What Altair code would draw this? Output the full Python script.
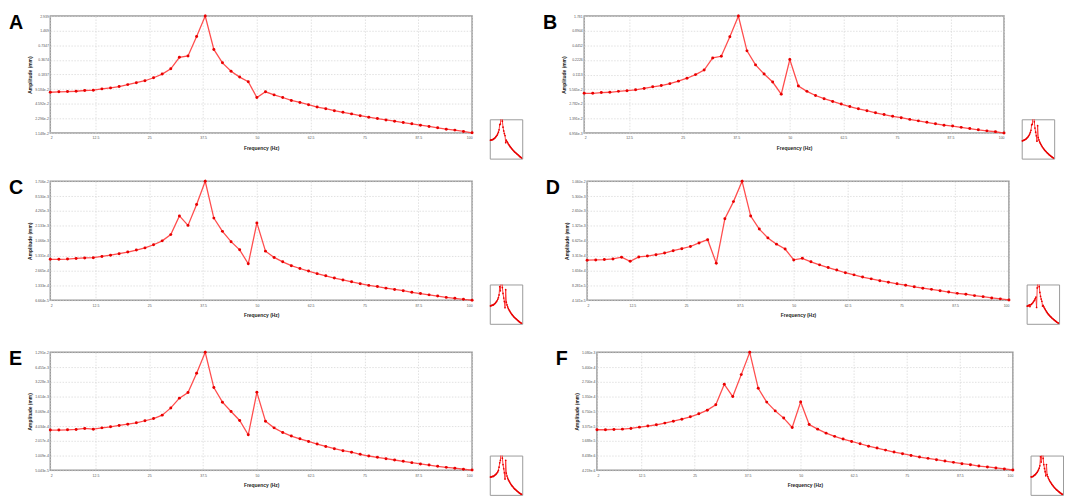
import altair as alt
import pandas as pd

# Frequency (Hz) of every computed point
FREQ = [2, 4, 6, 8, 10, 12, 14, 16, 18, 20, 22, 24, 26, 28, 30, 32, 34, 36, 38, 40,
        42, 44, 46, 48, 50, 52, 54, 56, 58, 60, 62, 64, 66, 68, 70, 72, 74, 76, 78, 80,
        82, 84, 86, 88, 90, 92, 94, 96, 98, 100]

X_TICKS = [2, 12.5, 25, 37.5, 50, 62.5, 75, 87.5, 100]

# Amplitude (mm)
AMP_A = [0.0794, 0.0811, 0.0822, 0.0833, 0.0863, 0.0875, 0.0931, 0.0977, 0.104, 0.114,
         0.125, 0.137, 0.158, 0.188, 0.241, 0.416, 0.443, 1.114, 2.939, 0.605,
         0.320, 0.215, 0.163, 0.131, 0.0619, 0.0811, 0.0701, 0.0619, 0.0539, 0.0489,
         0.0441, 0.0394, 0.0365, 0.0332, 0.0307, 0.0285, 0.0262, 0.0243, 0.0228, 0.0214,
         0.0201, 0.0189, 0.0178, 0.0167, 0.0157, 0.0147, 0.0138, 0.0132, 0.0124, 0.0116]
AMP_B = [0.0458, 0.0458, 0.0474, 0.0481, 0.0502, 0.0519, 0.0541, 0.0576, 0.0622, 0.0662,
         0.0724, 0.0815, 0.0936, 0.111, 0.138, 0.245, 0.265, 0.666, 1.781, 0.342,
         0.176, 0.114, 0.0781, 0.0440, 0.227, 0.0648, 0.0502, 0.0413, 0.0355, 0.0311,
         0.0275, 0.0244, 0.0220, 0.0201, 0.0182, 0.0167, 0.0154, 0.0144, 0.0133, 0.0124,
         0.0116, 0.0108, 0.0101, 0.00970, 0.00911, 0.00863, 0.00810, 0.00772, 0.00740, 0.00696]
AMP_C = [4.48e-4, 4.48e-4, 4.54e-4, 4.67e-4, 4.77e-4, 4.84e-4, 5.12e-4, 5.44e-4, 5.83e-4, 6.30e-4,
         6.89e-4, 7.64e-4, 8.84e-4, 1.059e-3, 1.417e-3, 3.39e-3, 2.18e-3, 5.79e-3, 1.706e-2, 3.06e-3,
         1.65e-3, 1.02e-3, 6.98e-4, 3.64e-4, 2.45e-3, 6.56e-4, 4.90e-4, 3.99e-4, 3.33e-4, 2.92e-4,
         2.59e-4, 2.30e-4, 2.08e-4, 1.87e-4, 1.71e-4, 1.57e-4, 1.44e-4, 1.33e-4, 1.26e-4, 1.17e-4,
         1.10e-4, 1.04e-4, 9.62e-5, 9.10e-5, 8.55e-5, 8.09e-5, 7.60e-5, 7.29e-5, 6.94e-5, 6.67e-5]
AMP_D = [2.67e-4, 2.71e-4, 2.75e-4, 2.84e-4, 3.07e-4, 2.55e-4, 3.11e-4, 3.24e-4, 3.45e-4, 3.73e-4,
         4.16e-4, 4.56e-4, 5.06e-4, 5.97e-4, 6.96e-4, 2.33e-4, 1.85e-3, 4.10e-3, 1.060e-2, 2.09e-3,
         1.14e-3, 7.56e-4, 5.65e-4, 4.50e-4, 2.71e-4, 2.92e-4, 2.48e-4, 2.15e-4, 1.90e-4, 1.69e-4,
         1.49e-4, 1.35e-4, 1.22e-4, 1.12e-4, 1.03e-4, 9.58e-5, 8.88e-5, 8.34e-5, 7.73e-5, 7.26e-5,
         6.87e-5, 6.45e-5, 6.06e-5, 5.70e-5, 5.47e-5, 5.13e-5, 4.89e-5, 4.60e-5, 4.41e-5, 4.20e-5]
AMP_E = [3.35e-4, 3.35e-4, 3.39e-4, 3.44e-4, 3.61e-4, 3.49e-4, 3.71e-4, 3.90e-4, 4.15e-4, 4.41e-4,
         4.70e-4, 5.18e-4, 5.74e-4, 6.74e-4, 9.47e-4, 1.50e-3, 1.95e-3, 4.83e-3, 1.291e-2, 2.46e-3,
         1.24e-3, 8.01e-4, 5.25e-4, 2.68e-4, 1.97e-3, 5.07e-4, 3.71e-4, 2.99e-4, 2.52e-4, 2.22e-4,
         1.96e-4, 1.73e-4, 1.55e-4, 1.39e-4, 1.27e-4, 1.18e-4, 1.07e-4, 9.88e-5, 9.28e-5, 8.72e-5,
         8.19e-5, 7.70e-5, 7.23e-5, 6.79e-5, 6.47e-5, 6.08e-5, 5.79e-5, 5.56e-5, 5.30e-5, 5.11e-5]
AMP_F = [2.84e-5, 2.84e-5, 2.88e-5, 2.92e-5, 3.02e-5, 3.21e-5, 3.38e-5, 3.59e-5, 3.88e-5, 4.24e-5,
         4.67e-5, 5.22e-5, 6.00e-5, 7.13e-5, 9.16e-5, 2.40e-4, 1.35e-4, 3.79e-4, 1.080e-3, 1.99e-4,
         1.04e-4, 6.89e-5, 4.91e-5, 3.17e-5, 1.05e-4, 3.64e-5, 2.92e-5, 2.42e-5, 2.08e-5, 1.83e-5,
         1.64e-5, 1.47e-5, 1.31e-5, 1.20e-5, 1.09e-5, 9.96e-6, 9.23e-6, 8.50e-6, 7.87e-6, 7.40e-6,
         6.95e-6, 6.53e-6, 6.13e-6, 5.76e-6, 5.49e-6, 5.16e-6, 4.95e-6, 4.71e-6, 4.49e-6, 4.28e-6]

# y-axis tick values (log axis) of each panel
TICKS_A = [1.148e-2, 2.296e-2, 4.592e-2, 9.184e-2, 0.1837, 0.3674, 0.7347, 1.469, 2.939]
TICKS_B = [6.956e-3, 1.391e-2, 2.782e-2, 5.565e-2, 0.1113, 0.2226, 0.4452, 0.8904, 1.781]
TICKS_C = [6.664e-5, 1.333e-4, 2.665e-4, 5.331e-4, 1.066e-3, 2.133e-3, 4.265e-3, 8.530e-3, 1.706e-2]
TICKS_D = [4.141e-5, 8.281e-5, 1.656e-4, 3.313e-4, 6.625e-4, 1.325e-3, 2.650e-3, 5.300e-3, 1.060e-2]
TICKS_E = [5.043e-5, 1.009e-4, 2.017e-4, 4.034e-4, 8.069e-4, 1.614e-3, 3.228e-3, 6.455e-3, 1.291e-2]
TICKS_F = [4.219e-6, 8.438e-6, 1.688e-5, 3.375e-5, 6.750e-5, 1.350e-4, 2.700e-4, 5.400e-4, 1.080e-3]

LINE_RED = "#ff3a3a"
PT_RED = "#e80000"
FONT = "Liberation Sans"
Y_LABELS = "datum.value >= 0.1 ? format(datum.value, '.4') : format(datum.value, '.3e')"
X_LABELS = "'' + datum.value"


def panel(letter, amps, ticks, width, height):
    df = pd.DataFrame({"f": FREQ, "amp": amps})
    x = alt.X("f:Q", scale=alt.Scale(domain=[2, 100], nice=False, zero=False),
              axis=alt.Axis(values=X_TICKS, labelExpr=X_LABELS, title="Frequency (Hz)",
                            labelPadding=3, titlePadding=6))
    y = alt.Y("amp:Q", scale=alt.Scale(type="log", domain=[ticks[0], ticks[-1]], nice=False),
              axis=alt.Axis(values=ticks, labelExpr=Y_LABELS, title="Amplitude (mm)",
                            labelPadding=2, titlePadding=2))
    base = alt.Chart(df).encode(x=x, y=y)
    line = base.mark_line(color=LINE_RED, strokeWidth=1.3, opacity=0.9, clip=False)
    pts = base.mark_circle(color=PT_RED, size=9, opacity=1)
    lab = alt.Chart(pd.DataFrame({"t": [letter]})).mark_text(
        font=FONT, fontSize=20, fontWeight="bold", color="black",
        align="left", baseline="top").encode(
        text="t:N", x=alt.value(-42), y=alt.value(-3))
    main = alt.layer(line, pts, lab).properties(width=width, height=height)

    # invisible spacer that pushes the thumbnail down beside the plot's lower edge
    spacer = alt.Chart(pd.DataFrame({"v": [0]})).mark_point(opacity=0).encode(
        x=alt.value(0), y=alt.value(0)
    ).properties(width=33, height=104,
                 view=alt.ViewBackground(stroke="transparent", strokeWidth=0))
    ib = alt.Chart(df).encode(
        x=alt.X("f:Q", scale=alt.Scale(domain=[2, 100], nice=False, zero=False), axis=None),
        y=alt.Y("amp:Q", scale=alt.Scale(type="log", domain=[ticks[0], ticks[6]], nice=False),
                axis=None))
    inset = alt.layer(
        ib.mark_line(color=LINE_RED, strokeWidth=1, clip=True),
        ib.mark_circle(color=PT_RED, size=3, opacity=1, clip=True),
    ).properties(width=33, height=40,
                 view=alt.ViewBackground(stroke="#9a9a9a", strokeWidth=1))
    return alt.hconcat(main, alt.vconcat(spacer, inset, spacing=0), spacing=11)


row1 = alt.hconcat(panel("A", AMP_A, TICKS_A, 429, 119),
                   panel("B", AMP_B, TICKS_B, 427, 119), spacing=19)
row2 = alt.hconcat(panel("C", AMP_C, TICKS_C, 429, 121),
                   panel("D", AMP_D, TICKS_D, 429, 121), spacing=22)
row3 = alt.hconcat(panel("E", AMP_E, TICKS_E, 429, 120),
                   panel("F", AMP_F, TICKS_F, 423, 120), spacing=32)

chart = alt.vconcat(row1, alt.vconcat(row2, row3, spacing=24), spacing=18).properties(
    padding={"left": 0, "top": 0, "right": 0, "bottom": 0}
).configure(font=FONT).configure_view(
    stroke="#9a9a9a", strokeWidth=1.5
).configure_axis(
    labelFontSize=3.5, labelColor="#555555", labelFont=FONT,
    titleFontSize=5, titleFontWeight="bold", titleColor="#222222", titleFont=FONT,
    ticks=False, domain=False,
    gridColor="#d4d4d4", gridDash=[1.5, 1.5], gridWidth=0.7,
)

chart.save("out.html", embed_options={"renderer": "svg", "actions": False})
